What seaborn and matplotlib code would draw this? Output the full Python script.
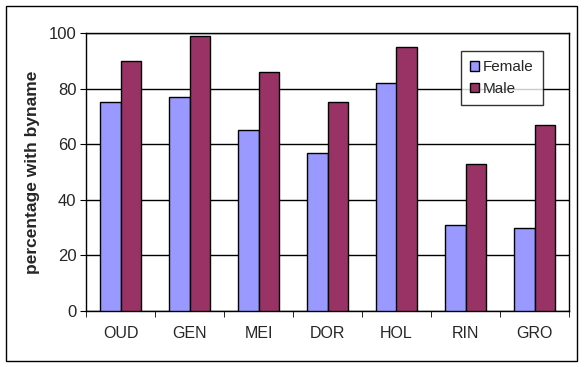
import pandas as pd
import matplotlib.pyplot as plt
import matplotlib.patches as mpatches
import seaborn as sns
import numpy as np

# --- dados ---
regioes = ['OUD', 'GEN', 'MEI', 'DOR', 'HOL', 'RIN', 'GRO']
female = [75, 77, 65, 57, 82, 31, 30]
male = [90, 99, 86, 75, 95, 53, 67]

df = pd.DataFrame({
    'regiao': regioes * 2,
    'sexo': ['Female'] * len(regioes) + ['Male'] * len(regioes),
    'pct': female + male,
})

sns.set_style("white")
plt.rcParams['font.family'] = ['Liberation Sans', 'DejaVu Sans']

fig = plt.figure(figsize=(5.84, 3.67), dpi=100)
ax = fig.add_axes([86 / 584, 56 / 367, 483 / 584, 278 / 367])

sns.barplot(data=df, x='regiao', y='pct', hue='sexo', order=regioes,
            palette={'Female': '#9999FF', 'Male': '#993366'},
            width=0.58, edgecolor='black', linewidth=1, saturation=1, ax=ax, zorder=3)

ax.set_ylim(0, 100)
ax.set_xlim(-0.5, len(regioes) - 0.5)
ax.set_yticks(np.arange(0, 101, 20))
ax.yaxis.grid(True, color='black', linewidth=1, zorder=0)
ax.set_axisbelow(True)

for s in ax.spines.values():
    s.set_color('black')
    s.set_linewidth(1)
    s.set_visible(True)

# marcas do eixo x entre as categorias
ax.set_xticks(np.arange(-0.5, len(regioes)), minor=True)
ax.tick_params(axis='x', which='major', length=0, pad=11, labelsize=11.5)
ax.tick_params(axis='x', which='minor', length=4, color='black', direction='out', bottom=True)
ax.tick_params(axis='y', length=4, color='black', direction='out', left=True,
               labelsize=12, pad=3)

ax.set_xlabel('')
ax.set_ylabel('percentage with byname', fontsize=12.5, fontweight='bold', labelpad=6)

leg = ax.legend(loc='upper left', bbox_to_anchor=((461 - 86) / 483, (311 - 51) / 278),
                frameon=True, fancybox=False, edgecolor='black', fontsize=11,
                handlelength=0.6, handleheight=0.6, handletextpad=0.25,
                borderpad=0.6, labelspacing=0.5, borderaxespad=0)
leg.get_frame().set_linewidth(1)

# moldura externa
fig.patches.append(mpatches.Rectangle((6 / 584, 6 / 367), 571 / 584, 355 / 367,
                                      transform=fig.transFigure, fill=False,
                                      edgecolor='black', linewidth=1))

plt.savefig('out.png', dpi=100)
